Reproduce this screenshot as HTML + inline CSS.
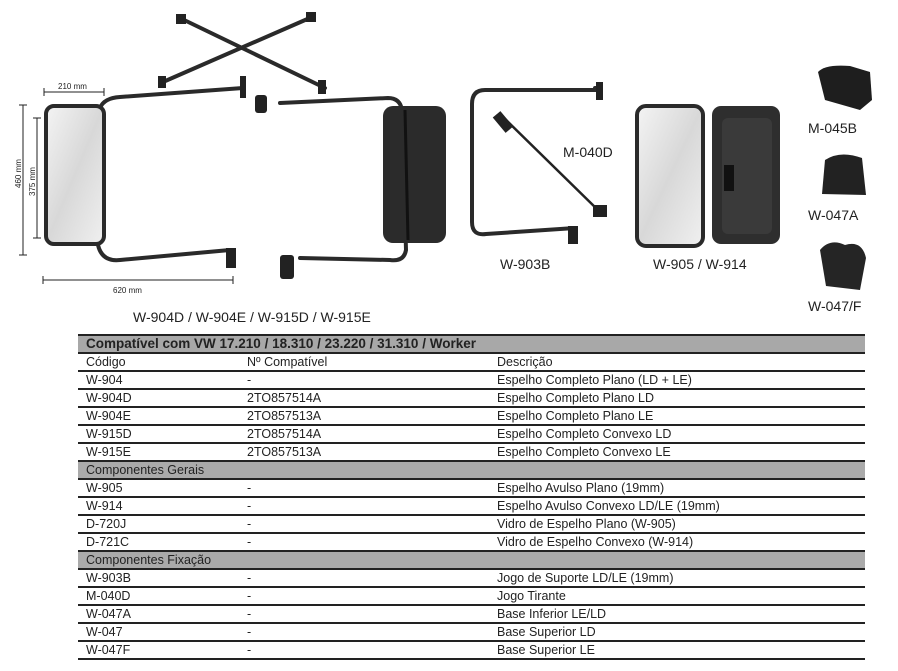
<!DOCTYPE html>
<html><head><meta charset="utf-8"><style>
body{margin:0;width:898px;height:671px;background:#fff;position:relative;overflow:hidden;font-family:"Liberation Sans",sans-serif;}
.lbl{position:absolute;font-size:14px;color:#222;}
table{position:absolute;left:78px;top:334px;width:787px;border-collapse:collapse;font-size:12.5px;color:#222;}
td{height:16px;padding:0 0 0 8px;border-bottom:2px solid #222;line-height:16px;white-space:nowrap;}
tr.g td{background:#aaa;}
tr.h td{background:#a8a8a8;font-weight:bold;font-size:13.5px;border-top:2px solid #222;}
</style></head><body>
<svg width="898" height="330" style="position:absolute;left:0;top:0">
<defs>
<linearGradient id="gl" x1="0" y1="0" x2="1" y2="1"><stop offset="0" stop-color="#f4f4f4"/><stop offset=".5" stop-color="#d8d8d8"/><stop offset="1" stop-color="#f0f0f0"/></linearGradient>
</defs>
<g stroke="#222" fill="none" stroke-width="1">
<line x1="44" y1="92" x2="104" y2="92"/><line x1="44" y1="88" x2="44" y2="96"/><line x1="104" y1="88" x2="104" y2="96"/>
<line x1="23" y1="105" x2="23" y2="255"/><line x1="19" y1="105" x2="27" y2="105"/><line x1="19" y1="255" x2="27" y2="255"/>
<line x1="37" y1="118" x2="37" y2="238"/><line x1="33" y1="118" x2="41" y2="118"/><line x1="33" y1="238" x2="41" y2="238"/>
<line x1="43" y1="280" x2="233" y2="280"/><line x1="43" y1="276" x2="43" y2="284"/><line x1="233" y1="276" x2="233" y2="284"/>
</g>
<g font-size="8" fill="#222" font-family="Liberation Sans">
<text x="58" y="89">210 mm</text>
<text x="113" y="293">620 mm</text>
<text transform="translate(21,188) rotate(-90)">460 mm</text>
<text transform="translate(35,196) rotate(-90)">375 mm</text>
</g>
<g stroke="#2a2a2a" fill="none" stroke-width="4" stroke-linecap="round">
<path d="M180 18 L325 88"/><path d="M312 17 L163 82"/>
<path d="M100 108 Q104 98 120 97 L243 88"/>
<path d="M98 245 Q102 262 120 260 L230 250"/>
<path d="M280 103 L388 98 Q400 98 402 110 L406 250 Q404 262 390 260 L300 258"/>
<path d="M601 90 L485 90 Q472 90 472 104 L472 222 Q472 236 486 234 L575 228"/>
<path d="M595 88 L601 88"/>
</g>
<g stroke="#222" stroke-width="2.5"><line x1="503" y1="117" x2="600" y2="212"/></g>
<g fill="#222">
<rect x="240" y="76" width="6" height="22"/><rect x="255" y="95" width="12" height="18" rx="3"/>
<rect x="176" y="14" width="10" height="10"/><rect x="306" y="12" width="10" height="10"/>
<rect x="158" y="76" width="8" height="12"/><rect x="318" y="80" width="8" height="14"/>
<rect x="226" y="248" width="10" height="20"/><rect x="280" y="255" width="14" height="24" rx="3"/>
<rect x="596" y="82" width="7" height="18"/><rect x="568" y="226" width="10" height="18"/>
<rect x="498" y="112" width="10" height="20" transform="rotate(-40 503 122)"/>
<rect x="593" y="205" width="14" height="12"/>
</g>
<rect x="46" y="106" width="58" height="138" rx="8" fill="url(#gl)" stroke="#2a2a2a" stroke-width="4"/>
<rect x="383" y="106" width="63" height="137" rx="10" fill="#2b2b2b"/>
<line x1="405" y1="110" x2="408" y2="240" stroke="#111" stroke-width="3"/>
<rect x="637" y="106" width="66" height="140" rx="9" fill="url(#gl)" stroke="#2a2a2a" stroke-width="4"/>
<rect x="712" y="106" width="68" height="138" rx="9" fill="#2e2e2e"/>
<rect x="722" y="118" width="50" height="116" rx="6" fill="#3a3a3a"/>
<rect x="724" y="165" width="10" height="26" fill="#111"/>
<path d="M818 72 Q825 64 850 66 L870 72 L872 100 L860 110 L825 100 Z" fill="#1e1e1e"/>
<path d="M825 160 Q840 150 862 158 L866 195 L822 194 Z" fill="#222"/>
<path d="M820 250 Q830 238 845 245 Q862 240 866 258 L860 290 L826 286 Z" fill="#252525"/>
</svg>
<div class="lbl" style="left:133px;top:309px">W-904D / W-904E / W-915D / W-915E</div>
<div class="lbl" style="left:563px;top:144px">M-040D</div>
<div class="lbl" style="left:500px;top:256px">W-903B</div>
<div class="lbl" style="left:653px;top:256px">W-905 / W-914</div>
<div class="lbl" style="left:808px;top:120px">M-045B</div>
<div class="lbl" style="left:808px;top:207px">W-047A</div>
<div class="lbl" style="left:808px;top:298px">W-047/F</div>
<table>
<tr class="h"><td colspan="3">Compatível com VW 17.210 / 18.310 / 23.220 / 31.310 / Worker</td></tr>
<tr><td style="width:153px">Código</td><td style="width:242px">Nº Compatível</td><td>Descrição</td></tr>
<tr><td>W-904</td><td>-</td><td>Espelho Completo Plano (LD + LE)</td></tr>
<tr><td>W-904D</td><td>2TO857514A</td><td>Espelho Completo Plano LD</td></tr>
<tr><td>W-904E</td><td>2TO857513A</td><td>Espelho Completo Plano LE</td></tr>
<tr><td>W-915D</td><td>2TO857514A</td><td>Espelho Completo Convexo LD</td></tr>
<tr><td>W-915E</td><td>2TO857513A</td><td>Espelho Completo Convexo LE</td></tr>
<tr class="g"><td colspan="3">Componentes Gerais</td></tr>
<tr><td>W-905</td><td>-</td><td>Espelho Avulso Plano (19mm)</td></tr>
<tr><td>W-914</td><td>-</td><td>Espelho Avulso Convexo LD/LE (19mm)</td></tr>
<tr><td>D-720J</td><td>-</td><td>Vidro de Espelho Plano (W-905)</td></tr>
<tr><td>D-721C</td><td>-</td><td>Vidro de Espelho Convexo (W-914)</td></tr>
<tr class="g"><td colspan="3">Componentes Fixação</td></tr>
<tr><td>W-903B</td><td>-</td><td>Jogo de Suporte LD/LE (19mm)</td></tr>
<tr><td>M-040D</td><td>-</td><td>Jogo Tirante</td></tr>
<tr><td>W-047A</td><td>-</td><td>Base Inferior LE/LD</td></tr>
<tr><td>W-047</td><td>-</td><td>Base Superior LD</td></tr>
<tr><td>W-047F</td><td>-</td><td>Base Superior LE</td></tr>
</table>
</body></html>
